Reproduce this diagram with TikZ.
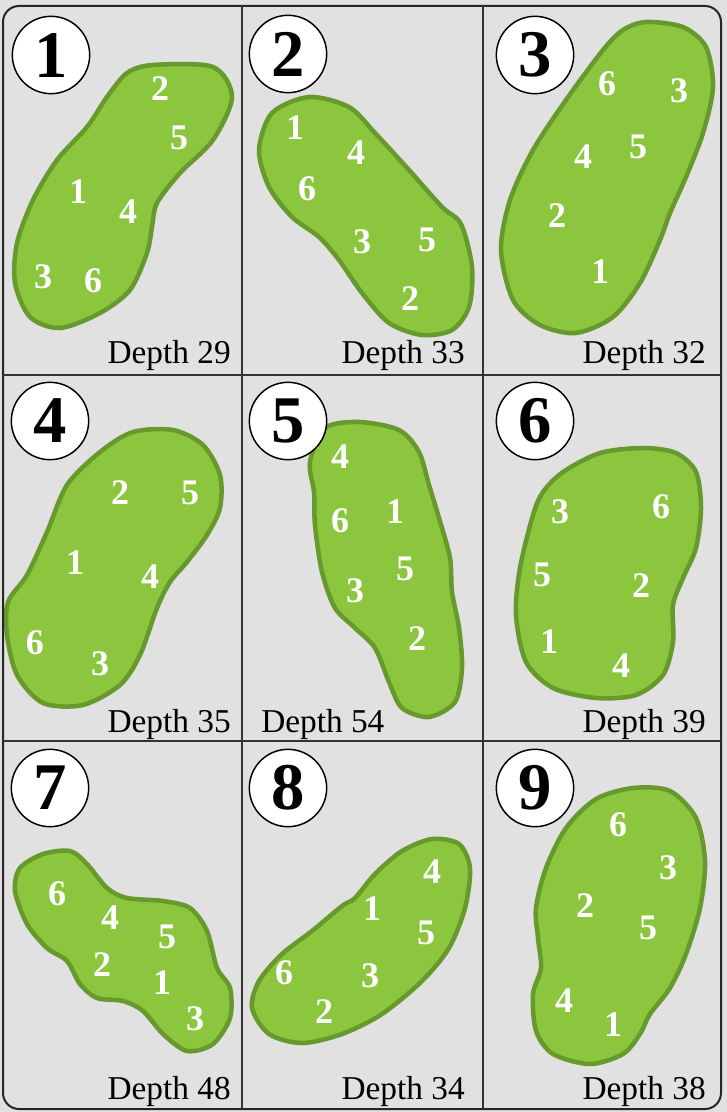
\documentclass[tikz,border=0pt]{standalone}
\usepackage{fontspec}
\setmainfont{Liberation Serif}
\usetikzlibrary{shapes.geometric}
\definecolor{marble}{HTML}{E1E1E1}
\definecolor{grass}{HTML}{8CC63F}
\definecolor{fringe}{HTML}{67992D}
\tikzstyle{holenum} = [circle, draw=black, line width=1.1pt, fill=white, minimum size=58pt, inner sep=0pt, font=\fontsize{50}{50}\selectfont\bfseries]
\tikzstyle{putting} = [draw=fringe, fill=grass, line width=3.4pt]
\tikzstyle{pin} = [text=white, inner sep=0pt, font=\fontsize{27}{27}\selectfont\bfseries]
\tikzstyle{depth} = [inner sep=0pt, font=\fontsize{25}{25}\selectfont]
\tikzstyle{frame} = [draw=black!85, line width=1.5pt, rounded corners=12pt]
\tikzstyle{grid} = [draw=black!80, line width=1.1pt]

\begin{document}
\begin{tikzpicture}[x=0.75pt, y=-0.75pt]

	\useasboundingbox (0,0) rectangle (727,1112);
	\fill[marble] (0,0) rectangle (727,1112);

	% greens, row 1
	\draw[putting] plot[smooth cycle] coordinates {(153,65) (213,67) (232,97) (213,140) (180,173) (157,203) (152,227) (147,253) (130,290) (100,313) (60,328) (30,317) (15,283) (17,243) (33,200) (57,160) (87,127) (107,97) (127,73)};
	\draw[putting] plot[smooth cycle] coordinates {(309,97) (349,107) (375,133) (409,170) (442,207) (461,224) (472,267) (469,307) (452,330) (422,335) (389,323) (362,293) (339,260) (319,237) (292,217) (269,187) (259,150) (272,113)};
	\draw[putting] plot[smooth cycle] coordinates {(646,22) (683,27) (706,47) (713,87) (703,133) (686,177) (670,213) (660,240) (640,283) (613,317) (576,333) (540,325) (513,300) (501,250) (510,200) (533,150) (566,100) (603,50) (623,30)};

	% greens, row 2
	\draw[putting] plot[smooth cycle] coordinates {(100,452) (133,432) (173,430) (203,445) (220,475) (220,508) (207,535) (187,562) (170,582) (157,608) (140,655) (120,685) (83,705) (43,703) (17,675) (7,635) (8,602) (27,575) (47,532) (67,485)};
	\draw[putting] plot[smooth cycle] coordinates {(325,428) (359,422) (399,430) (419,452) (429,485) (439,518) (450,558) (452,592) (459,628) (462,668) (455,702) (429,717) (402,708) (389,682) (375,648) (355,628) (335,608) (322,572) (315,525) (314,492) (310,462)};
	\draw[putting] plot[smooth cycle] coordinates {(563,472) (600,453) (643,448) (676,453) (696,472) (701,508) (696,548) (683,578) (673,605) (673,642) (663,675) (636,695) (596,698) (553,688) (526,662) (516,615) (520,568) (533,515) (543,492)};

	% greens, row 3
	\draw[putting] plot[smooth cycle] coordinates {(20,868) (43,854) (70,851) (87,864) (107,888) (127,898) (163,901) (190,908) (207,931) (217,968) (230,988) (230,1018) (213,1044) (187,1051) (163,1034) (143,1011) (123,1001) (97,998) (80,984) (67,961) (47,948) (27,924) (15,891)};
	\draw[putting] plot[smooth cycle] coordinates {(432,839) (459,844) (470,868) (465,908) (449,948) (422,981) (382,1014) (342,1034) (302,1043) (269,1034) (252,1008) (259,981) (282,954) (312,931) (342,906) (355,898) (375,874) (402,851)};
	\draw[putting] plot[smooth cycle] coordinates {(633,788) (670,791) (696,818) (705,861) (700,908) (686,954) (670,988) (650,1014) (640,1034) (623,1054) (590,1064) (553,1054) (536,1031) (533,994) (541,968) (538,938) (536,908) (546,868) (566,828) (596,799)};

	% card frame
	\draw[frame] (3,6) rectangle (721,1109);
	\draw[grid] (242,6) -- (242,1109);
	\draw[grid] (483,6) -- (483,1109);
	\draw[grid] (3,375) -- (721,375);
	\draw[grid] (3,741) -- (721,741);

	\node (h1) [holenum] at (51,55) {1};
	\node (h2) [holenum] at (288,54) {2};
	\node (h3) [holenum] at (535,55) {3};
	\node (h4) [holenum] at (50,421) {4};
	\node (h5) [holenum] at (288,421) {5};
	\node (h6) [holenum] at (535,421) {6};
	\node (h7) [holenum] at (50,788) {7};
	\node (h8) [holenum] at (288,788) {8};
	\node (h9) [holenum] at (535,788) {9};

	\node (d1) [depth, anchor=base east] at (231,363) {Depth 29};
	\node (d2) [depth, anchor=base east] at (465,363) {Depth 33};
	\node (d3) [depth, anchor=base east] at (706,363) {Depth 32};
	\node (d4) [depth, anchor=base east] at (231,732) {Depth 35};
	\node (d5) [depth, anchor=base west] at (261,732) {Depth 54};
	\node (d6) [depth, anchor=base east] at (706,732) {Depth 39};
	\node (d7) [depth, anchor=base east] at (231,1099) {Depth 48};
	\node (d8) [depth, anchor=base east] at (465,1099) {Depth 34};
	\node (d9) [depth, anchor=base east] at (706,1099) {Depth 38};

	% pin positions
	\node (p1a) [pin] at (160,89) {2};
	\node (p1b) [pin] at (179,138) {5};
	\node (p1c) [pin] at (78,192) {1};
	\node (p1d) [pin] at (128,212) {4};
	\node (p1e) [pin] at (43,277) {3};
	\node (p1f) [pin] at (93,281) {6};

	\node (p2a) [pin] at (295,128) {1};
	\node (p2b) [pin] at (356,153) {4};
	\node (p2c) [pin] at (307,189) {6};
	\node (p2d) [pin] at (362,242) {3};
	\node (p2e) [pin] at (427,240) {5};
	\node (p2f) [pin] at (410,299) {2};

	\node (p3a) [pin] at (607,84) {6};
	\node (p3b) [pin] at (679,91) {3};
	\node (p3c) [pin] at (583,157) {4};
	\node (p3d) [pin] at (638,147) {5};
	\node (p3e) [pin] at (557,216) {2};
	\node (p3f) [pin] at (600,272) {1};

	\node (p4a) [pin] at (120,493) {2};
	\node (p4b) [pin] at (190,493) {5};
	\node (p4c) [pin] at (75,563) {1};
	\node (p4d) [pin] at (150,577) {4};
	\node (p4e) [pin] at (35,643) {6};
	\node (p4f) [pin] at (100,664) {3};

	\node (p5a) [pin] at (340,457) {4};
	\node (p5b) [pin] at (340,521) {6};
	\node (p5c) [pin] at (395,512) {1};
	\node (p5d) [pin] at (405,569) {5};
	\node (p5e) [pin] at (355,591) {3};
	\node (p5f) [pin] at (417,639) {2};

	\node (p6a) [pin] at (560,512) {3};
	\node (p6b) [pin] at (661,507) {6};
	\node (p6c) [pin] at (542,575) {5};
	\node (p6d) [pin] at (641,586) {2};
	\node (p6e) [pin] at (549,642) {1};
	\node (p6f) [pin] at (621,666) {4};

	\node (p7a) [pin] at (57,894) {6};
	\node (p7b) [pin] at (110,918) {4};
	\node (p7c) [pin] at (167,937) {5};
	\node (p7d) [pin] at (102,965) {2};
	\node (p7e) [pin] at (162,983) {1};
	\node (p7f) [pin] at (195,1019) {3};

	\node (p8a) [pin] at (432,872) {4};
	\node (p8b) [pin] at (372,909) {1};
	\node (p8c) [pin] at (426,933) {5};
	\node (p8d) [pin] at (284,973) {6};
	\node (p8e) [pin] at (370,976) {3};
	\node (p8f) [pin] at (324,1012) {2};

	\node (p9a) [pin] at (618,825) {6};
	\node (p9b) [pin] at (668,868) {3};
	\node (p9c) [pin] at (585,906) {2};
	\node (p9d) [pin] at (648,928) {5};
	\node (p9e) [pin] at (564,1001) {4};
	\node (p9f) [pin] at (613,1025) {1};

\end{tikzpicture}
\end{document}
